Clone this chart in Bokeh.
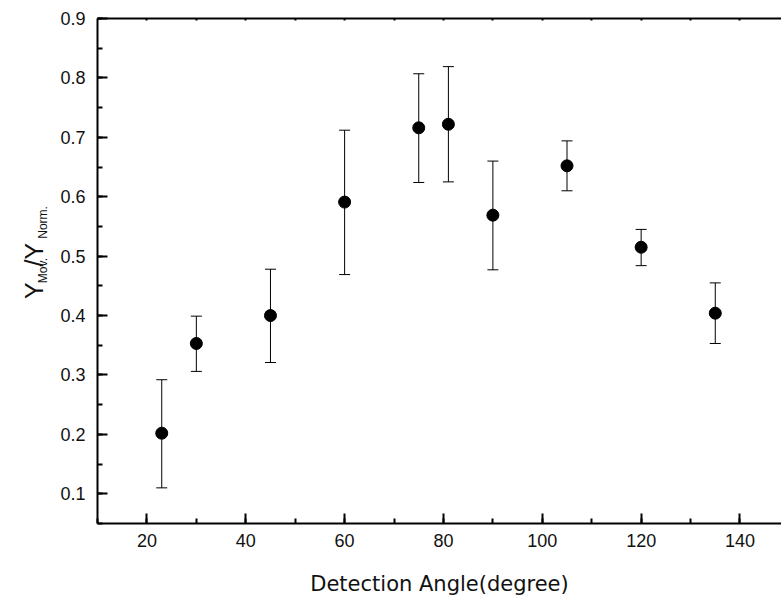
from bokeh.plotting import figure
from bokeh.layouts import row
from bokeh.models import (ColumnDataSource, Whisker, TeeHead, LinearAxis, Range1d,
                          SingleIntervalTicker, FixedTicker, PrintfTickFormatter, Label)
from bokeh.embed import file_html
from bokeh.resources import INLINE

# ---- data ----
angle = [23, 30, 45, 60, 75, 81, 90, 105, 120, 135]
ratio = [0.202, 0.353, 0.400, 0.591, 0.716, 0.722, 0.569, 0.652, 0.515, 0.404]
upper = [0.292, 0.399, 0.478, 0.712, 0.807, 0.819, 0.660, 0.694, 0.545, 0.455]
lower = [0.110, 0.306, 0.321, 0.469, 0.624, 0.625, 0.477, 0.610, 0.484, 0.353]

x_label = "Detection Angle(degree)"
y_label_parts = ["Y", "Mov.", "/Y", "Norm."]

src = ColumnDataSource(dict(angle=angle, ratio=ratio, upper=upper, lower=lower))

LABEL_W = 50
TOTAL_W = 781
TOTAL_H = 603

main = figure(width=TOTAL_W - LABEL_W, height=TOTAL_H, output_backend="svg",
              toolbar_location=None,
              x_range=Range1d(10, 148.4), y_range=Range1d(0.05, 0.9),
              x_axis_location=None, y_axis_location=None,
              min_border_left=97 - LABEL_W, min_border_right=0,
              min_border_top=18, min_border_bottom=80)
main.outline_line_color = None
main.xgrid.visible = False
main.ygrid.visible = False

TICK_FONT = "Liberation Sans"

xb = LinearAxis(ticker=SingleIntervalTicker(interval=20, num_minor_ticks=2))
yl = LinearAxis(ticker=SingleIntervalTicker(interval=0.1, num_minor_ticks=2),
                formatter=PrintfTickFormatter(format="%.1f"))
for ax in (xb, yl):
    ax.axis_line_width = 2
    ax.axis_line_color = "black"
    ax.major_tick_in = 10
    ax.major_tick_out = 0
    ax.minor_tick_in = 5
    ax.minor_tick_out = 0
    ax.major_tick_line_width = 2
    ax.minor_tick_line_width = 2
    ax.major_tick_line_color = "black"
    ax.minor_tick_line_color = "black"
    ax.major_label_text_font = TICK_FONT
    ax.major_label_text_font_size = "18px"
    ax.major_label_text_color = "#111111"
xb.major_label_standoff = 10
yl.major_label_standoff = 12
xb.axis_label = x_label
xb.axis_label_text_font = "DejaVu Sans"
xb.axis_label_text_font_size = "21px"
xb.axis_label_text_font_style = "normal"
xb.axis_label_text_color = "#111111"
xb.axis_label_standoff = 22
main.add_layout(xb, "below")
main.add_layout(yl, "left")

# top frame line with small inward ticks (no labels)
xt = LinearAxis(ticker=FixedTicker(ticks=[], minor_ticks=list(range(20, 150, 10))))
xt.axis_line_width = 2
xt.axis_line_color = "black"
xt.minor_tick_in = 2
xt.minor_tick_out = 0
xt.minor_tick_line_width = 2
xt.minor_tick_line_color = "black"
main.add_layout(xt, "above")

# error bars
w = Whisker(source=src, base="angle", upper="upper", lower="lower",
            line_color="black", line_width=1,
            upper_head=TeeHead(size=11, line_color="black", line_width=1),
            lower_head=TeeHead(size=11, line_color="black", line_width=1))
main.add_layout(w)

main.scatter("angle", "ratio", source=src, size=12, marker="circle",
             fill_color="black", line_color="black")

# ---- y-axis title panel: Y_Mov./Y_Norm. (rotated, with subscripts) ----
lab = figure(width=LABEL_W, height=TOTAL_H, output_backend="svg", toolbar_location=None,
             x_range=Range1d(0, LABEL_W), y_range=Range1d(0, TOTAL_H),
             min_border=0, x_axis_location=None, y_axis_location=None)
lab.outline_line_color = None
lab.xgrid.visible = False
lab.ygrid.visible = False

pos_x = [33, 42, 33, 42]
pos_y = [TOTAL_H - 335, TOTAL_H - 316, TOTAL_H - 296, TOTAL_H - 263]
sizes = ["25px", "12px", "25px", "12px"]
for txt, lx, ly, fs in zip(y_label_parts, pos_x, pos_y, sizes):
    lab.add_layout(Label(x=lx, y=ly, text=txt, angle=90, angle_units="deg",
                         text_align="left", text_baseline="alphabetic",
                         text_font="Liberation Sans", text_font_size=fs,
                         text_color="#111111"))

p = row(lab, main)

open("out.html", "w").write(file_html(p, INLINE))
